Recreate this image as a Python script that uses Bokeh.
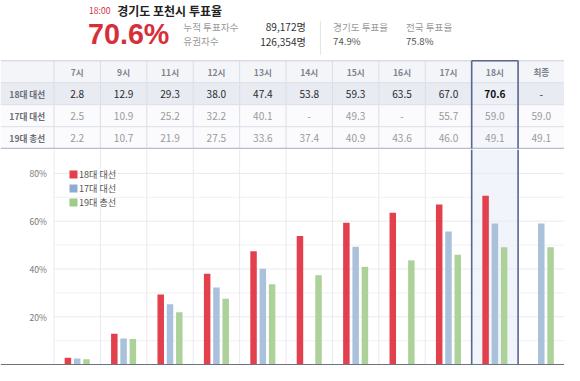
import numpy as np
from bokeh.plotting import figure
from bokeh.layouts import column
from bokeh.models import Range1d, ColumnDataSource, Legend, LegendItem
from bokeh.core.properties import value
from bokeh.transform import dodge
from bokeh.embed import file_html
from bokeh.resources import INLINE

# ---------------- data ----------------
hours = ["7시", "9시", "11시", "12시", "13시", "14시", "15시", "16시", "17시", "18시", "최종"]
series_names = ["18대 대선", "17대 대선", "19대 총선"]
s18 = [2.8, 12.9, 29.3, 38.0, 47.4, 53.8, 59.3, 63.5, 67.0, 70.6, None]
s17 = [2.5, 10.9, 25.2, 32.2, 40.1, None, 49.3, None, 55.7, 59.0, 59.0]
s19 = [2.2, 10.7, 21.9, 27.5, 33.6, 37.4, 40.9, 43.6, 46.0, 49.1, 49.1]
y_ticks = [20, 40, 60, 80]
y_minor_ticks = [10, 30, 50, 70]
y_tick_labels = ["20%", "40%", "60%", "80%"]
highlight_index = 9

title_time = "18:00"
title_text = "경기도 포천시 투표율"
headline_rate = "70.6%"
stat_labels = ["누적 투표자수", "유권자수"]
stat_values = ["89,172명", "126,354명"]
compare_labels = ["경기도 투표율", "전국 투표율"]
compare_values = ["74.9%", "75.8%"]

# ---------------- style ----------------
KR = "Noto Sans CJK KR"
W, H = 564, 365
FX = W / 580
FY = H / 381
H_HEAD = 55
H_TAB = 94
H_CHART = H - H_HEAD - H_TAB
LABEL_W = 55 / 47.727  # label column width in column units
BAR_COLORS = ["#e3404d", "#a9c1db", "#acd29a"]
LEG_COLORS = ["#e3404d", "#8eabd1", "#9ccb8a"]
HL_FILL = "#eef2fa"
HL_LINE = "#5b6790"
GRID = "#e9eaee"


def fs(px):
    return f"{px * FY:.1f}px"


def bare(p):
    p.xaxis.visible = False
    p.yaxis.visible = False
    p.xgrid.visible = False
    p.ygrid.visible = False
    p.outline_line_color = None
    p.background_fill_color = "white"
    p.border_fill_color = "white"
    p.min_border = 0


# ---------------- header ----------------
ph = figure(width=W, height=H_HEAD, x_range=Range1d(0, 580), y_range=Range1d(57, 0),
            output_backend="svg", toolbar_location=None)
bare(ph)
ph.text(x=[91], y=[10], text=[title_time], text_color="#d5303b", text_font=value(KR),
        text_font_size=fs(9), text_baseline="middle")
ph.text(x=[120], y=[10], text=[title_text], text_color="#222222", text_font=value(KR),
        text_font_size=fs(12.5), text_font_style="bold", text_baseline="middle")
ph.text(x=[90], y=[35], text=[headline_rate], text_color="#d62f3a", text_font=value("Liberation Sans"),
        text_font_size=fs(30), text_font_style="bold", text_baseline="middle")
ph.text(x=[188, 188], y=[27, 42], text=stat_labels, text_color="#9a9a9a", text_font=value(KR),
        text_font_size=fs(10), text_baseline="middle")
ph.text(x=[314, 314], y=[27, 42], text=stat_values, text_color="#333333", text_font=value(KR),
        text_font_size=fs(10.5), text_baseline="middle", text_align="right")
ph.segment(x0=[329], x1=[329], y0=[21], y1=[57], line_color="#e4e4e4", line_width=1)
ph.text(x=[342, 417], y=[27, 27], text=compare_labels, text_color="#9a9a9a", text_font=value(KR),
        text_font_size=fs(10), text_baseline="middle")
ph.text(x=[342, 417], y=[42, 42], text=compare_values, text_color="#555555", text_font=value(KR),
        text_font_size=fs(10), text_baseline="middle")

# ---------------- table ----------------
n = len(hours)
row_top = 4.0
pt = figure(width=W, height=H_TAB, x_range=Range1d(-LABEL_W, n), y_range=Range1d(-0.04, 4.24),
            output_backend="svg", toolbar_location=None)
bare(pt)
pt.quad(left=[-LABEL_W] * 4, right=[n] * 4, bottom=[3, 2, 1, 0], top=[4, 3, 2, 1],
        fill_color=["#f4f5f9", "#e9ebf2", "#fbfbfd", "#fbfbfd"], line_color=None)
pt.quad(left=[highlight_index], right=[highlight_index + 1], bottom=[0], top=[row_top],
        fill_color=HL_FILL, fill_alpha=0.55, line_color=None)
pt.segment(x0=list(range(0, n)), x1=list(range(0, n)), y0=[0] * n, y1=[row_top] * n,
           line_color="#dcdee6", line_width=1)
pt.segment(x0=[-LABEL_W] * 3, x1=[n] * 3, y0=[1, 2, 3], y1=[1, 2, 3], line_color="#dcdee6", line_width=1)
pt.segment(x0=[-LABEL_W], x1=[n], y0=[row_top], y1=[row_top], line_color="#cdd0d9", line_width=1)
pt.segment(x0=[-LABEL_W], x1=[n], y0=[0], y1=[0], line_color="#b9bdc7", line_width=1.5)
pt.segment(x0=[highlight_index, highlight_index + 1, highlight_index],
           x1=[highlight_index, highlight_index + 1, highlight_index + 1],
           y0=[0, 0, row_top], y1=[row_top, row_top, row_top], line_color=HL_LINE, line_width=1.6)

xc = [i + 0.5 for i in range(n)]
pt.text(x=xc, y=[3.5] * n, text=hours, text_color="#80838c", text_font=value(KR),
        text_font_size=fs(9), text_font_style="bold", text_align="center", text_baseline="middle")
pt.text(x=[-LABEL_W / 2] * 3, y=[2.5, 1.5, 0.5], text=series_names, text_color="#6a6d76",
        text_font=value(KR), text_font_size=fs(9), text_font_style="bold",
        text_align="center", text_baseline="middle")


def fmt(v):
    return "-" if v is None else f"{v:.1f}"


for row_y, vals, color in [(2.5, s18, "#2a2a2a"), (1.5, s17, "#9a9a9a"), (0.5, s19, "#9a9a9a")]:
    normal_x, normal_t, bold_x, bold_t = [], [], [], []
    for i, v in enumerate(vals):
        if vals is s18 and i == highlight_index:
            bold_x.append(xc[i]); bold_t.append(fmt(v))
        else:
            normal_x.append(xc[i]); normal_t.append(fmt(v))
    pt.text(x=normal_x, y=[row_y] * len(normal_x), text=normal_t, text_color=color, text_font=value(KR),
            text_font_size=fs(10.5), text_align="center", text_baseline="middle")
    if bold_x:
        pt.text(x=bold_x, y=[row_y] * len(bold_x), text=bold_t, text_color="#111111", text_font=value(KR),
                text_font_size=fs(10.5), text_font_style="bold", text_align="center", text_baseline="middle")

# ---------------- chart ----------------
y_top = 90.0
pc = figure(width=W, height=H_CHART, x_range=pt.x_range, y_range=Range1d(-0.4, y_top),
            output_backend="svg", toolbar_location=None)
bare(pc)
pc.quad(left=[highlight_index], right=[highlight_index + 1], bottom=[0], top=[y_top],
        fill_color=HL_FILL, fill_alpha=0.8, line_color=None)
pc.segment(x0=[0] * 4, x1=[n] * 4, y0=y_minor_ticks, y1=y_minor_ticks, line_color="#f1f1f4", line_width=1)
pc.segment(x0=[0] * 4, x1=[n] * 4, y0=y_ticks, y1=y_ticks, line_color=GRID, line_width=1)
pc.segment(x0=list(range(0, n)), x1=list(range(0, n)), y0=[0] * n, y1=[y_top] * n,
           line_color=GRID, line_width=1)
pc.text(x=[-0.15] * len(y_ticks), y=y_ticks, text=y_tick_labels, text_color="#777777",
        text_font=value(KR), text_font_size=fs(9), text_align="right", text_baseline="middle")


def nan(vals):
    return [np.nan if v is None else v for v in vals]


src = ColumnDataSource(dict(x=xc, s18=nan(s18), s17=nan(s17), s19=nan(s19)))
bw = 0.14
for key, off, col in [("s18", -0.2, BAR_COLORS[0]), ("s17", 0.0, BAR_COLORS[1]), ("s19", 0.2, BAR_COLORS[2])]:
    pc.vbar(x=dodge("x", off), top=key, bottom=0, width=bw, source=src,
            fill_color=col, line_color=None)

pc.segment(x0=[highlight_index, highlight_index + 1], x1=[highlight_index, highlight_index + 1],
           y0=[0, 0], y1=[y_top, y_top], line_color=HL_LINE, line_width=1.6)
pc.segment(x0=[-LABEL_W], x1=[n], y0=[0], y1=[0], line_color="#6f7380", line_width=1.2)

# legend swatches (square boxes, no visible data)
leg_items = []
for name, col in zip(series_names, LEG_COLORS):
    r = pc.quad(left=[np.nan], right=[np.nan], bottom=[np.nan], top=[np.nan],
                fill_color=col, line_color=None)
    leg_items.append(LegendItem(label=name, renderers=[r]))
legend = Legend(items=leg_items, location=(68, H_CHART - 18 - 42), orientation="vertical",
                padding=0, spacing=0, margin=0, label_text_font=KR, label_text_font_size=fs(9.5),
                label_text_color="#555555", label_height=12, glyph_height=10, glyph_width=10,
                label_standoff=1, border_line_color=None, background_fill_alpha=0)
pc.add_layout(legend)

layout = column(ph, pt, pc, spacing=0)
open("out.html", "w").write(file_html(layout, INLINE))
